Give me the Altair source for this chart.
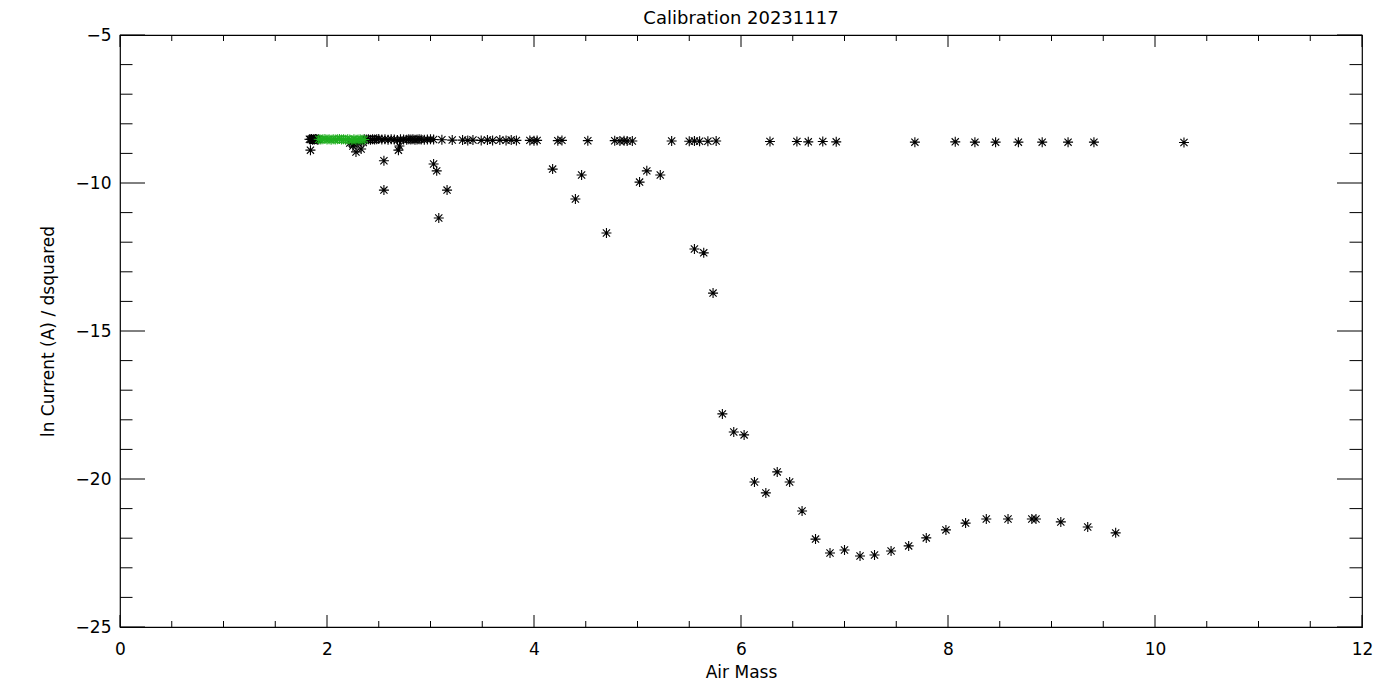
import altair as alt
import pandas as pd

title_text = "Calibration 20231117"
x_title = "Air Mass"
y_title = "ln Current (A) / dsquared"

# flat row of black points near -8.5
top_x = [1.83, 1.84, 1.85, 1.86, 1.87, 1.88, 1.89, 1.90, 1.91, 1.92,
         2.22, 2.26, 2.30, 2.35,
         2.36, 2.38, 2.40, 2.42, 2.44, 2.46, 2.48, 2.50, 2.53, 2.56, 2.59, 2.62,
         2.65, 2.68, 2.71, 2.74, 2.77, 2.79, 2.81, 2.83, 2.85, 2.87, 2.89, 2.91,
         2.94, 2.97, 3.00, 3.03,
         3.11, 3.21, 3.31, 3.36, 3.41, 3.49, 3.55, 3.60, 3.67, 3.73, 3.78, 3.83,
         3.96, 4.00, 4.03, 4.23, 4.27, 4.52, 4.78, 4.83, 4.87, 4.90, 4.95,
         5.33, 5.50, 5.55, 5.60, 5.68, 5.76,
         6.28, 6.54, 6.65, 6.79, 6.92, 7.68, 8.07, 8.26, 8.46, 8.68, 8.91, 9.16, 9.41, 10.28]
top_y = [-8.52, -8.53, -8.51, -8.54, -8.52, -8.53, -8.51, -8.52, -8.54, -8.52,
         -8.65, -8.68, -8.66, -8.63,
         -8.52, -8.53, -8.52, -8.54, -8.52, -8.53, -8.52, -8.51, -8.53, -8.52, -8.54, -8.52,
         -8.53, -8.55, -8.52, -8.53, -8.54, -8.52, -8.53, -8.52, -8.54, -8.53, -8.52, -8.53,
         -8.54, -8.53, -8.52, -8.53,
         -8.54, -8.55, -8.55, -8.56, -8.55, -8.56, -8.55, -8.56, -8.55, -8.56, -8.55, -8.56,
         -8.56, -8.57, -8.56, -8.57, -8.56, -8.57, -8.57, -8.58, -8.57, -8.58, -8.58,
         -8.58, -8.59, -8.58, -8.59, -8.59, -8.58,
         -8.60, -8.60, -8.61, -8.60, -8.61, -8.62, -8.61, -8.62, -8.62, -8.62, -8.62, -8.62, -8.62, -8.63]

# scattered black points below the flat row
low_x = [1.84, 2.25, 2.28, 2.33, 2.55, 2.55, 2.69, 2.70, 3.03, 3.06, 3.08, 3.16,
         4.18, 4.40, 4.46, 4.70, 5.02, 5.09, 5.22, 5.55, 5.64, 5.73,
         5.82, 5.93, 6.03, 6.13, 6.24, 6.35, 6.47, 6.59, 6.72, 6.86, 7.00, 7.15,
         7.29, 7.45, 7.62, 7.79, 7.98, 8.17, 8.37, 8.58, 8.81, 8.85, 9.09, 9.35, 9.62]
low_y = [-8.89, -8.75, -8.95, -8.85, -9.25, -10.24, -8.89, -8.75, -9.36, -9.59, -11.18, -10.24,
         -9.53, -10.54, -9.73, -11.69, -9.97, -9.59, -9.73, -12.23, -12.36, -13.72,
         -17.80, -18.41, -18.51, -20.10, -20.47, -19.76, -20.10, -21.08, -22.03, -22.50, -22.40, -22.60,
         -22.57, -22.43, -22.26, -21.99, -21.72, -21.49, -21.35, -21.35, -21.35, -21.35, -21.45, -21.62, -21.82]

# green points
green_x = [1.92, 1.94, 1.96, 1.98, 2.00, 2.02, 2.04, 2.06, 2.08, 2.10, 2.12,
           2.14, 2.16, 2.18, 2.20, 2.22, 2.24, 2.26, 2.28, 2.30, 2.32, 2.34, 2.36]
green_y = [-8.52, -8.53, -8.52, -8.51, -8.53, -8.52, -8.54, -8.52, -8.53, -8.52, -8.51,
           -8.53, -8.52, -8.54, -8.52, -8.53, -8.55, -8.52, -8.54, -8.53, -8.52, -8.54, -8.53]

x_major = [0, 2, 4, 6, 8, 10, 12]
x_minor = [0.5, 1.0, 1.5, 2.5, 3.0, 3.5, 4.5, 5.0, 5.5, 6.5, 7.0, 7.5, 8.5, 9.0, 9.5, 10.5, 11.0, 11.5]
y_major = [-25, -20, -15, -10, -5]
y_minor = [-24, -23, -22, -21, -19, -18, -17, -16, -14, -13, -12, -11, -9, -8, -7, -6]

W, H = 1242, 592
FONT = "DejaVu Sans"
STAR = "M-1,0L1,0M0,-1L0,1M-0.72,-0.72L0.72,0.72M-0.72,0.72L0.72,-0.72"

xs = alt.Scale(domain=[0, 12], nice=False, zero=False)
ys = alt.Scale(domain=[-25, -5], nice=False, zero=False)

black_df = pd.DataFrame({"x": top_x + low_x, "y": top_y + low_y})
green_df = pd.DataFrame({"x": green_x, "y": green_y})

x_axis = alt.Axis(values=x_major, ticks=False, tickSize=0, domain=False, grid=False,
                  labelFlush=False, labelOverlap=False,
                  labelFont=FONT, labelFontSize=17, labelColor="black", labelPadding=14,
                  title=x_title, titleFont=FONT, titleFontSize=17, titleFontWeight="normal",
                  titleColor="black", titleX=W / 2, titleY=45, titleBaseline="middle",
                  titleAlign="center")
y_axis = alt.Axis(values=y_major, ticks=False, tickSize=0, domain=False, grid=False,
                  labelFlush=False, labelOverlap=False,
                  labelFont=FONT, labelFontSize=17, labelColor="black", labelPadding=9,
                  title=y_title, titleFont=FONT, titleFontSize=17, titleFontWeight="normal",
                  titleColor="black", titleX=-72, titleY=H / 2, titleAngle=-90,
                  titleBaseline="middle", titleAlign="center", format="d")


def X(field):
    return alt.X(field, scale=xs, axis=x_axis)


def Y(field):
    return alt.Y(field, scale=ys, axis=y_axis)


black = alt.Chart(black_df).mark_point(
    shape=STAR, filled=False, size=100, strokeWidth=1.1, color="black", opacity=1
).encode(x=X("x:Q"), y=Y("y:Q"))

green = alt.Chart(green_df).mark_point(
    shape=STAR, filled=False, size=100, strokeWidth=1.1, color="#1fae1f", opacity=1
).encode(x=X("x:Q"), y=Y("y:Q"))


def xticks(vals, length):
    df = pd.DataFrame({"v": vals})
    base = alt.Chart(df).mark_rule(color="black", strokeWidth=1)
    bottom = base.encode(x=X("v:Q"), y=alt.value(H), y2=alt.value(H - length))
    top = base.encode(x=X("v:Q"), y=alt.value(0), y2=alt.value(length))
    return [bottom, top]


def yticks(vals, length):
    df = pd.DataFrame({"v": vals})
    base = alt.Chart(df).mark_rule(color="black", strokeWidth=1)
    left = base.encode(y=Y("v:Q"), x=alt.value(0), x2=alt.value(length))
    right = base.encode(y=Y("v:Q"), x=alt.value(W), x2=alt.value(W - length))
    return [left, right]


title_layer = alt.Chart(pd.DataFrame({"t": [title_text]})).mark_text(
    font=FONT, fontSize=18, color="black", align="center", baseline="alphabetic"
).encode(text="t:N", x=alt.value(W / 2), y=alt.value(-11))

layers = ([black, green] + xticks(x_major, 12) + xticks(x_minor, 6)
          + yticks(y_major, 25) + yticks(y_minor, 12.5) + [title_layer])

chart = alt.layer(*layers).properties(
    width=W, height=H,
    autosize=alt.AutoSizeParams(type="none"),
    padding={"left": 112, "top": 27, "right": 30, "bottom": 65},
).configure_view(stroke="black", strokeWidth=1.2)

chart.save("out.html", embed_options={"renderer": "svg", "actions": False})
